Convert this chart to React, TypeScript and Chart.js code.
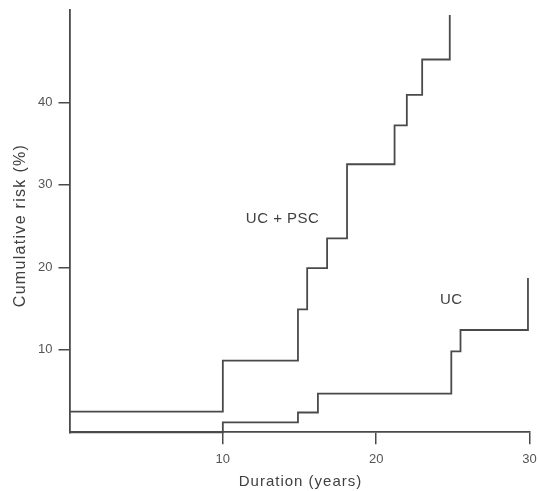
import React, { useEffect, useRef } from "react";
import { Chart, registerables } from "chart.js";

Chart.register(...registerables);

// Step curve data (duration in years, cumulative risk in %)
const pscDuration = [0, 10, 14.9, 15.5, 16.8, 18.1, 21.2, 22.0, 23.0, 24.8];
const pscRisk = [2.5, 8.7, 14.9, 19.9, 23.5, 32.5, 37.2, 40.9, 45.2, 50.6];
const ucDuration = [0, 10, 14.9, 16.2, 24.9, 25.5, 29.9];
const ucRisk = [0, 1.2, 2.4, 4.7, 9.8, 12.4, 18.7];
const xTicks = [10, 20, 30];
const yTicks = [10, 20, 30, 40];
const seriesNames = ["UC + PSC", "UC"];
const xTitle = "Duration (years)";
const yTitle = "Cumulative risk (%)";

const FONT = "'Liberation Sans', Arial, Helvetica, sans-serif";
const LINE = "#4a4a4a";
const TEXT = "#404040";

const textPlugin = {
  id: "textOverlay",
  afterDraw(chart: any) {
    const { ctx, scales, chartArea } = chart;
    ctx.save();
    ctx.fillStyle = TEXT;
    ctx.textAlign = "center";
    ctx.textBaseline = "middle";

    // curve labels, anchored in data coordinates
    const anchors = [
      [13.9, 25.9],
      [24.9, 16.0],
    ];
    ctx.font = `15px ${FONT}`;
    (ctx as any).letterSpacing = "0.5px";
    seriesNames.forEach((name, i) => {
      const x = scales.x.getPixelForValue(anchors[i][0]);
      const y = scales.y.getPixelForValue(anchors[i][1]);
      ctx.fillText(name, x, y);
    });

    // x axis title
    ctx.font = `15px ${FONT}`;
    (ctx as any).letterSpacing = "1px";
    ctx.fillText(xTitle, (chartArea.left + chartArea.right) / 2 + 1, 481.5);

    // y axis title
    ctx.font = `16px ${FONT}`;
    (ctx as any).letterSpacing = "1.3px";
    ctx.translate(20.5, 225.5);
    ctx.rotate(-Math.PI / 2);
    ctx.fillText(yTitle, 0, 0);
    ctx.restore();
  },
};

export default function App() {
  const ref = useRef<HTMLCanvasElement>(null);
  useEffect(() => {
    if (!ref.current) return;
    const chart = new Chart(ref.current, {
      type: "line",
      data: {
        datasets: [
          {
            label: seriesNames[0],
            data: pscDuration.map((x, i) => ({ x, y: pscRisk[i] })),
            stepped: true,
            borderColor: LINE,
            borderWidth: 1.8,
            pointRadius: 0,
            fill: false,
            clip: false,
          },
          {
            label: seriesNames[1],
            data: ucDuration.map((x, i) => ({ x, y: ucRisk[i] })),
            stepped: true,
            borderColor: LINE,
            borderWidth: 1.8,
            pointRadius: 0,
            fill: false,
            clip: false,
          },
        ],
      },
      plugins: [textPlugin],
      options: {
        animation: false,
        responsive: false,
        devicePixelRatio: 1,
        layout: { padding: { left: 0, right: 8.5, top: 10, bottom: 0 } },
        plugins: {
          legend: { display: false },
          tooltip: { enabled: false },
          title: { display: false },
        },
        scales: {
          x: {
            type: "linear",
            min: 0,
            max: 30,
            afterBuildTicks: (s: any) => {
              s.ticks = xTicks.map((v) => ({ value: v }));
            },
            afterFit: (s: any) => {
              s.height = 58.7;
              s.paddingLeft = 0;
              s.paddingRight = 0;
            },
            grid: {
              display: true,
              drawOnChartArea: false,
              drawTicks: true,
              tickLength: 12,
              color: LINE,
              lineWidth: 1.5,
            },
            border: { display: true, color: LINE, width: 1.8 },
            ticks: {
              padding: 7,
              color: "#555555",
              font: { family: FONT, size: 13 },
              maxRotation: 0,
              callback: (v: any) => String(v),
            },
            title: { display: false, text: xTitle },
          },
          y: {
            type: "linear",
            min: 0,
            max: 51.2,
            afterBuildTicks: (s: any) => {
              s.ticks = yTicks.map((v) => ({ value: v }));
            },
            afterFit: (s: any) => {
              s.width = 69.5;
              s.paddingTop = 0;
              s.paddingBottom = 0;
            },
            grid: {
              display: true,
              drawOnChartArea: false,
              drawTicks: true,
              tickLength: 11,
              color: LINE,
              lineWidth: 1.5,
            },
            border: { display: true, color: LINE, width: 1.8 },
            ticks: {
              padding: 6,
              color: "#555555",
              font: { family: FONT, size: 13 },
              callback: (v: any) => String(v),
            },
            title: { display: false, text: yTitle },
          },
        },
      },
    } as any);
    return () => chart.destroy();
  }, []);
  return (
    <div style={{ position: "absolute", left: 0, top: 0, width: 538, height: 491, background: "#fff" }}>
      <canvas ref={ref} width={538} height={491} style={{ display: "block" }} />
    </div>
  );
}
